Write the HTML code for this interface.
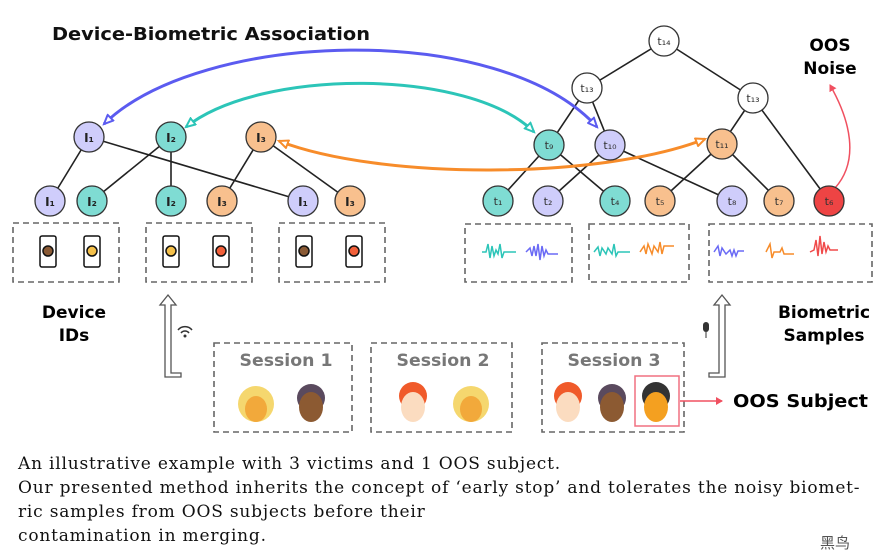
<!DOCTYPE html>
<html><head><meta charset="utf-8"><style>
body{margin:0;background:#fff;width:896px;height:555px;overflow:hidden}
.cap{position:absolute;left:18px;font-family:"DejaVu Serif",serif;font-size:17px;letter-spacing:0.8px;color:#111;white-space:nowrap}
</style></head><body>
<svg width="896" height="555" style="position:absolute;left:0;top:0" font-family="DejaVu Sans, Liberation Sans, sans-serif">
<defs>
<marker id="ab" markerWidth="12" markerHeight="10" refX="10" refY="5" orient="auto-start-reverse" markerUnits="userSpaceOnUse"><path d="M1,1 L10,5 L1,9 Z" fill="#fff" stroke="#5b5bf0" stroke-width="2"/></marker>
<marker id="at" markerWidth="12" markerHeight="10" refX="10" refY="5" orient="auto-start-reverse" markerUnits="userSpaceOnUse"><path d="M1,1 L10,5 L1,9 Z" fill="#fff" stroke="#2cc5b8" stroke-width="2"/></marker>
<marker id="ao" markerWidth="12" markerHeight="10" refX="10" refY="5" orient="auto-start-reverse" markerUnits="userSpaceOnUse"><path d="M1,1 L10,5 L1,9 Z" fill="#fff" stroke="#f78c2a" stroke-width="2"/></marker>
<marker id="ar" markerWidth="8" markerHeight="8" refX="6" refY="4" orient="auto" markerUnits="userSpaceOnUse"><path d="M0,0 L7,4 L0,8 Z" fill="#f05060"/></marker>
</defs>
<text x="52" y="40" font-size="18" font-weight="bold" fill="#111" textLength="318" lengthAdjust="spacingAndGlyphs">Device-Biometric Association</text>
<text x="830" y="51" font-size="17" font-weight="bold" text-anchor="middle">OOS</text>
<text x="830" y="74" font-size="17" font-weight="bold" text-anchor="middle">Noise</text>
<text x="74" y="318" font-size="17" font-weight="bold" text-anchor="middle">Device</text>
<text x="74" y="341" font-size="17" font-weight="bold" text-anchor="middle">IDs</text>
<text x="824" y="318" font-size="17" font-weight="bold" text-anchor="middle">Biometric</text>
<text x="824" y="341" font-size="17" font-weight="bold" text-anchor="middle">Samples</text>
<text x="733" y="407" font-size="18" font-weight="bold" textLength="135" lengthAdjust="spacingAndGlyphs">OOS Subject</text>
<g stroke="#222" stroke-width="1.6">
<line x1="89" y1="137" x2="50" y2="201"/><line x1="89" y1="137" x2="303" y2="201"/>
<line x1="171" y1="137" x2="92" y2="201"/><line x1="171" y1="137" x2="171" y2="201"/>
<line x1="261" y1="137" x2="222" y2="201"/><line x1="261" y1="137" x2="350" y2="201"/>
<line x1="664" y1="41" x2="587" y2="88"/><line x1="664" y1="41" x2="753" y2="98"/>
<line x1="587" y1="88" x2="549" y2="145"/><line x1="587" y1="88" x2="610" y2="145"/>
<line x1="753" y1="98" x2="722" y2="144"/><line x1="753" y1="98" x2="829" y2="201"/>
<line x1="549" y1="145" x2="498" y2="201"/><line x1="549" y1="145" x2="615" y2="201"/>
<line x1="610" y1="145" x2="548" y2="201"/><line x1="610" y1="145" x2="732" y2="201"/>
<line x1="722" y1="144" x2="660" y2="201"/><line x1="722" y1="144" x2="779" y2="201"/>
</g>
<path d="M104,124 C200,30 500,20 597,127" fill="none" stroke="#5b5bf0" stroke-width="3" marker-start="url(#ab)" marker-end="url(#ab)"/>
<path d="M186,127 C260,68 470,68 534,132" fill="none" stroke="#2cc5b8" stroke-width="3" marker-start="url(#at)" marker-end="url(#at)"/>
<path d="M279,141 C380,180 600,180 705,139" fill="none" stroke="#f78c2a" stroke-width="3" marker-start="url(#ao)" marker-end="url(#ao)"/>
<path d="M835,188 C860,160 850,120 830,85" fill="none" stroke="#f05060" stroke-width="1.5" marker-end="url(#ar)"/>
<g stroke="#333" stroke-width="1.3">
<g fill="#cfcdfb"><circle cx="89" cy="137" r="15"/><circle cx="50" cy="201" r="15"/><circle cx="303" cy="201" r="15"/><circle cx="610" cy="145" r="15"/><circle cx="548" cy="201" r="15"/><circle cx="732" cy="201" r="15"/></g>
<g fill="#7fdcd3"><circle cx="171" cy="137" r="15"/><circle cx="92" cy="201" r="15"/><circle cx="171" cy="201" r="15"/><circle cx="549" cy="145" r="15"/><circle cx="498" cy="201" r="15"/><circle cx="615" cy="201" r="15"/></g>
<g fill="#f8c08e"><circle cx="261" cy="137" r="15"/><circle cx="222" cy="201" r="15"/><circle cx="350" cy="201" r="15"/><circle cx="722" cy="144" r="15"/><circle cx="660" cy="201" r="15"/><circle cx="779" cy="201" r="15"/></g>
<g fill="#fff"><circle cx="664" cy="41" r="15"/><circle cx="587" cy="88" r="15"/><circle cx="753" cy="98" r="15"/></g>
<circle cx="829" cy="201" r="15" fill="#ee4444"/>
</g>
<g font-size="12" font-weight="bold" fill="#222" text-anchor="middle">
<text x="89" y="142">I₁</text><text x="171" y="142">I₂</text><text x="261" y="142">I₃</text>
<text x="50" y="206">I₁</text><text x="92" y="206">I₂</text><text x="171" y="206">I₂</text><text x="222" y="206">I₃</text><text x="303" y="206">I₁</text><text x="350" y="206">I₃</text>
</g>
<g font-size="11" fill="#333" text-anchor="middle">
<text x="664" y="45">t₁₄</text><text x="587" y="92">t₁₃</text><text x="753" y="102">t₁₃</text>
<text x="549" y="149">t₉</text><text x="610" y="149">t₁₀</text><text x="722" y="148">t₁₁</text>
<text x="498" y="205">t₁</text><text x="548" y="205">t₂</text><text x="615" y="205">t₄</text><text x="660" y="205">t₅</text><text x="732" y="205">t₈</text><text x="779" y="205">t₇</text><text x="829" y="205">t₆</text>
</g>
<g fill="none" stroke="#666" stroke-width="1.6" stroke-dasharray="6,4">
<rect x="13" y="223" width="106" height="59"/><rect x="146" y="223" width="106" height="59"/><rect x="279" y="223" width="106" height="59"/>
<rect x="465" y="224" width="107" height="58"/><rect x="589" y="224" width="100" height="58"/><rect x="709" y="224" width="163" height="58"/>
<rect x="214" y="343" width="138" height="89"/><rect x="371" y="343" width="141" height="89"/><rect x="542" y="343" width="142" height="89"/>
</g>
<g stroke="#111" stroke-width="1.5">
<rect x="40" y="236" width="16" height="31" rx="2" fill="#fff"/><circle cx="48" cy="251" r="5" fill="#8a5a35"/>
<rect x="84" y="236" width="16" height="31" rx="2" fill="#fff"/><circle cx="92" cy="251" r="5" fill="#f4c04a"/>
<rect x="163" y="236" width="16" height="31" rx="2" fill="#fff"/><circle cx="171" cy="251" r="5" fill="#f4c04a"/>
<rect x="213" y="236" width="16" height="31" rx="2" fill="#fff"/><circle cx="221" cy="251" r="5" fill="#f2603a"/>
<rect x="296" y="236" width="16" height="31" rx="2" fill="#fff"/><circle cx="304" cy="251" r="5" fill="#8a5a35"/>
<rect x="346" y="236" width="16" height="31" rx="2" fill="#fff"/><circle cx="354" cy="251" r="5" fill="#f2603a"/>
</g>
<g fill="none" stroke-width="1.5">
<path d="M482,252 l4,0 l2,-8 l2,14 l2,-12 l2,10 l2,-6 l2,4 l2,-10 l2,14 l2,-6 l12,0" stroke="#2cc5b8"/>
<path d="M526,252 l4,-4 l2,8 l2,-10 l2,10 l2,-12 l2,16 l2,-14 l2,10 l2,-6 l2,4 l10,0" stroke="#6a6af5"/>
<path d="M594,252 l4,-5 l2,9 l2,-8 l4,6 l2,-6 l4,6 l2,-10 l2,12 l2,-4 l12,0" stroke="#2cc5b8"/>
<path d="M640,252 l4,-6 l2,8 l2,-10 l4,10 l2,-8 l4,6 l2,-10 l2,12 l2,-8 l10,0" stroke="#f78c2a"/>
<path d="M714,252 l4,-6 l2,10 l2,-8 l4,6 l4,-4 l2,6 l2,-6 l2,6 l2,-5 l6,0" stroke="#6a6af5"/>
<path d="M766,252 l4,-8 l2,14 l2,-6 l6,0 l2,-4 l2,6 l10,0" stroke="#f78c2a"/>
<path d="M810,252 l4,-2 l2,-10 l2,16 l2,-20 l2,18 l2,-12 l2,10 l2,-6 l2,4 l8,0" stroke="#f04a4a"/>
</g>
<g fill="none" stroke="#555" stroke-width="1.3">
<path d="M165,377 L181,377 L181,373 L171,373 L171,305 L176,305 L168,295 L160,305 L165,305 Z"/>
<path d="M709,377 L725,377 L725,305 L730,305 L722,295 L714,305 L719,305 L719,373 L709,373 Z"/>
</g>
<g fill="none" stroke="#333" stroke-width="1.5">
<path d="M178,330 a9,9 0 0 1 14,0"/><path d="M181,333 a5,5 0 0 1 8,0"/>
</g>
<circle cx="185" cy="336" r="1.5" fill="#333"/>
<rect x="703" y="322" width="6" height="10" rx="3" fill="#333"/><line x1="706" y1="332" x2="706" y2="338" stroke="#333"/>
<g font-size="17" font-weight="bold" fill="#777" text-anchor="middle">
<text x="286" y="366" textLength="93" lengthAdjust="spacingAndGlyphs">Session 1</text><text x="443" y="366" textLength="93" lengthAdjust="spacingAndGlyphs">Session 2</text><text x="614" y="366" textLength="93" lengthAdjust="spacingAndGlyphs">Session 3</text>
</g>
<g>
<circle cx="256" cy="404" r="18" fill="#f5d76e"/><ellipse cx="256" cy="409" rx="11" ry="13" fill="#f2a93b"/>
<circle cx="311" cy="398" r="14" fill="#5a4a5e"/><ellipse cx="311" cy="407" rx="12" ry="15" fill="#8c5a32"/>
<circle cx="413" cy="396" r="14" fill="#f05a2a"/><ellipse cx="413" cy="407" rx="12" ry="15" fill="#fbdcc0"/>
<circle cx="471" cy="404" r="18" fill="#f5d76e"/><ellipse cx="471" cy="409" rx="11" ry="13" fill="#f2a93b"/>
<circle cx="568" cy="396" r="14" fill="#f05a2a"/><ellipse cx="568" cy="407" rx="12" ry="15" fill="#fbdcc0"/>
<circle cx="612" cy="398" r="14" fill="#5a4a5e"/><ellipse cx="612" cy="407" rx="12" ry="15" fill="#8c5a32"/>
<circle cx="656" cy="396" r="14" fill="#333"/><ellipse cx="656" cy="407" rx="12" ry="15" fill="#f4a020"/>
</g>
<rect x="635" y="376" width="44" height="50" fill="none" stroke="#f07080" stroke-width="1.5"/>
<line x1="680" y1="401" x2="722" y2="401" stroke="#f05060" stroke-width="1.5" marker-end="url(#ar)"/>
<text x="820" y="548" font-size="15" fill="#555" font-family="Noto Sans CJK SC, sans-serif">黑鸟</text>
</svg>
<div class="cap" style="top:454px">An illustrative example with 3 victims and 1 OOS subject.</div>
<div class="cap" style="top:478px">Our presented method inherits the concept of ‘early stop’ and tolerates the noisy biomet-</div>
<div class="cap" style="top:502px">ric samples from OOS subjects before their</div>
<div class="cap" style="top:526px">contamination in merging.</div>
</body></html>
